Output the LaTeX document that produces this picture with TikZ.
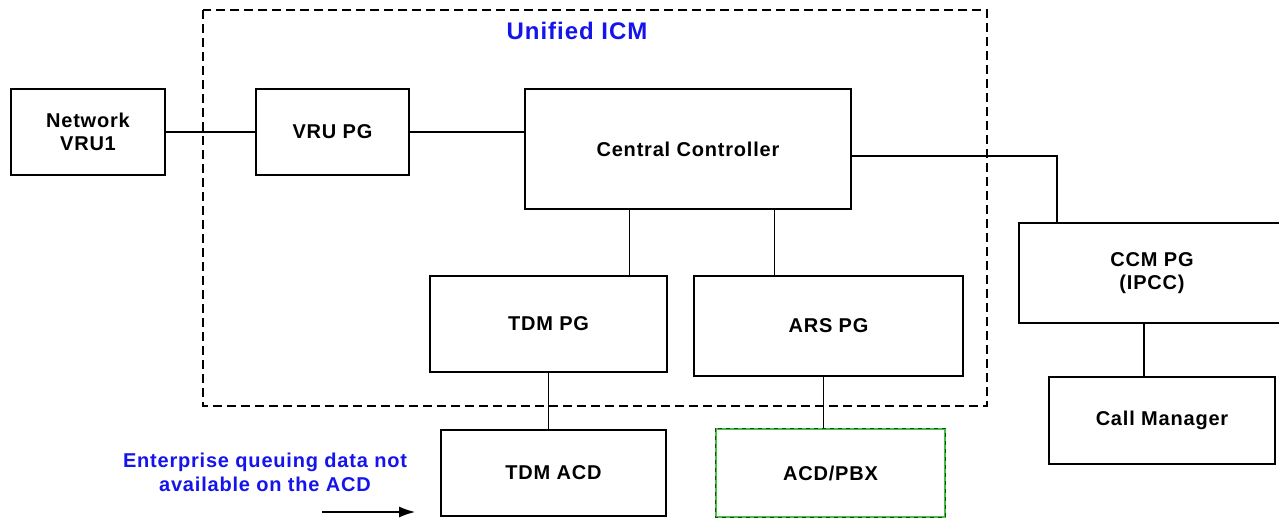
\documentclass[tikz,border=0pt]{standalone}
\usepackage{fontspec}
\setmainfont{Liberation Sans}[LetterSpace=4]
\usetikzlibrary{calc,arrows.meta}

\definecolor{noteblue}{RGB}{20,20,235}
\definecolor{selgreen}{RGB}{60,200,60}
\tikzset{every picture/.style={line width=1.2pt}}
\tikzset{blk/.style={draw, rectangle, align=center, inner sep=0pt, font=\bfseries\fontsize{20}{23}\selectfont},
  note/.style={align=center, text=noteblue, inner sep=0pt, font=\bfseries\fontsize{20}{24}\selectfont}}

\begin{document}
\begin{tikzpicture}[x=1pt,y=1pt,yscale=-1,xscale=1]
\useasboundingbox (0,0) rectangle (1279,518);

%Shape: Dashed group box
\draw [dash pattern=on 9pt off 5pt] (203,10) rectangle (987,406);
% Text Node
\node [note, font=\bfseries\fontsize{24}{28}\selectfont] (icm) at (577,31) {Unified ICM};

%Shape: Boxes
\node [blk, minimum width=154pt, minimum height=86pt] (netvru) at (88,132) {Network\\VRU1};
\node [blk, minimum width=153pt, minimum height=86pt] (vrupg) at (332.5,132) {VRU PG};
\node [blk, minimum width=326pt, minimum height=120pt] (cc) at (688,149) {Central Controller};
\node [blk, minimum width=266pt, minimum height=100pt] (ccmpg) at (1152,273) {CCM PG\\(IPCC)};
\node [blk, minimum width=226pt, minimum height=87pt] (callmgr) at (1162,420.5) {Call Manager};
\node [blk, minimum width=237pt, minimum height=96pt] (tdmpg) at (548.5,324) {TDM PG};
\node [blk, minimum width=269pt, minimum height=100pt] (arspg) at (828.5,326) {ARS PG};
\node [blk, minimum width=225pt, minimum height=86pt] (tdmacd) at (553.5,473) {TDM ACD};
\node [blk, draw=selgreen, minimum width=229pt, minimum height=88pt] (acdpbx) at (830.5,473) {ACD/PBX};
\draw [dash pattern=on 4pt off 4pt, draw=black!80] (acdpbx.north west) rectangle (acdpbx.south east);

%Connectors
\draw (netvru.east) -- (netvru.east -| vrupg.west);
\draw (vrupg.east) -- (vrupg.east -| cc.west);
\coordinate (cctap) at ($(cc.east)+(0,7)$);
\coordinate (ccmtap) at ($(ccmpg.north)+(-95,0)$);
\draw (cctap) -| (ccmtap);
\coordinate (cmtap) at ($(ccmpg.south)+(-8,0)$);
\draw (cmtap) -- (cmtap |- callmgr.north);
\coordinate (tdmtap) at ($(cc.south west)+(105,0)$);
\draw (tdmtap) -- (tdmtap |- tdmpg.north);
\coordinate (arstap) at ($(cc.south west)+(250,0)$);
\draw (arstap) -- (arstap |- arspg.north);
\draw (tdmpg.south) -- (tdmpg.south |- tdmacd.north);
\coordinate (pbxtap) at ($(arspg.south)+(-5,0)$);
\draw (pbxtap) -- (pbxtap |- acdpbx.north);

% Text Node
\node [note] (qnote) at (265,472) {Enterprise queuing data not\\available on the ACD};
\coordinate (arrS) at (322,512);
\coordinate (arrE) at (415,512);
\draw [-{Latex[length=16pt,width=11pt]}] (arrS) -- (arrE);

\end{tikzpicture}
\end{document}
